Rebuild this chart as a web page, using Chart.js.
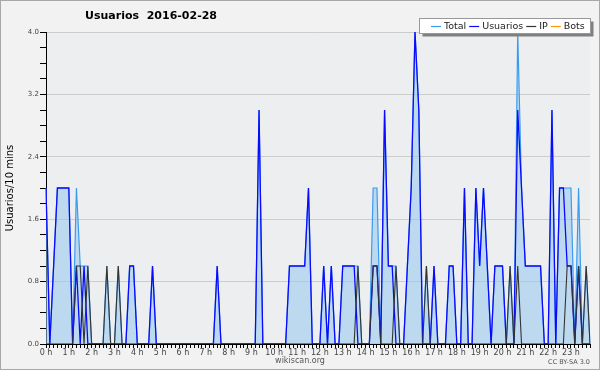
<!DOCTYPE html>
<html>
<head>
<meta charset="utf-8">
<script src="https://cdn.jsdelivr.net/npm/chart.js@4.4.1/dist/chart.umd.min.js"></script>
<style>
  html, body { margin: 0; padding: 0; background: #f2f2f2; }
  #wrap { width: 600px; height: 370px; }
</style>
</head>
<body>
<div id="wrap"><canvas id="chart" width="600" height="370"></canvas></div>
<script>
const chartTitle = "Usuarios  2016-02-28";
const yTitle = "Usuarios/10 mins";

const hourLabels = [
  "0 h", "1 h", "2 h", "3 h", "4 h", "5 h", "6 h", "7 h", "8 h", "9 h", "10 h", "11 h",
  "12 h", "13 h", "14 h", "15 h", "16 h", "17 h", "18 h", "19 h", "20 h", "21 h", "22 h", "23 h",
];

// one value per 10 minutes, two hours per row
const total = [
  2, 0, 1, 2, 2, 2, 2, 0, 2, 1, 1, 1,
  0, 0, 0, 0, 1, 0, 0, 1, 0, 0, 1, 1,
  0, 0, 0, 0, 1, 0, 0, 0, 0, 0, 0, 0,
  0, 0, 0, 0, 0, 0, 0, 0, 0, 1, 0, 0,
  0, 0, 0, 0, 0, 0, 0, 0, 3, 0, 0, 0,
  0, 0, 0, 0, 1, 1, 1, 1, 1, 2, 0, 0,
  0, 1, 0, 1, 0, 0, 1, 1, 1, 1, 1, 0,
  0, 0, 2, 2, 0, 3, 1, 1, 1, 0, 0, 1,
  2, 4, 3, 0, 1, 0, 1, 0, 0, 0, 1, 1,
  0, 0, 2, 0, 0, 2, 1, 2, 1, 0, 1, 1,
  1, 0, 1, 0, 4, 2, 1, 1, 1, 1, 1, 0,
  0, 3, 0, 2, 2, 2, 2, 0, 2, 0, 1, 0,
];

const usuarios = [
  2, 0, 1, 2, 2, 2, 2, 0, 1, 0, 1, 0,
  0, 0, 0, 0, 0, 0, 0, 0, 0, 0, 1, 1,
  0, 0, 0, 0, 1, 0, 0, 0, 0, 0, 0, 0,
  0, 0, 0, 0, 0, 0, 0, 0, 0, 1, 0, 0,
  0, 0, 0, 0, 0, 0, 0, 0, 3, 0, 0, 0,
  0, 0, 0, 0, 1, 1, 1, 1, 1, 2, 0, 0,
  0, 1, 0, 1, 0, 0, 1, 1, 1, 1, 0, 0,
  0, 0, 1, 1, 0, 3, 1, 1, 0, 0, 0, 1,
  2, 4, 3, 0, 0, 0, 1, 0, 0, 0, 1, 1,
  0, 0, 2, 0, 0, 2, 1, 2, 1, 0, 1, 1,
  1, 0, 0, 0, 3, 2, 1, 1, 1, 1, 1, 0,
  0, 3, 0, 2, 2, 1, 1, 0, 1, 0, 0, 0,
];

const ip = [
  0, 0, 0, 0, 0, 0, 0, 0, 1, 1, 0, 1,
  0, 0, 0, 0, 1, 0, 0, 1, 0, 0, 0, 0,
  0, 0, 0, 0, 0, 0, 0, 0, 0, 0, 0, 0,
  0, 0, 0, 0, 0, 0, 0, 0, 0, 0, 0, 0,
  0, 0, 0, 0, 0, 0, 0, 0, 0, 0, 0, 0,
  0, 0, 0, 0, 0, 0, 0, 0, 0, 0, 0, 0,
  0, 0, 0, 0, 0, 0, 0, 0, 0, 0, 1, 0,
  0, 0, 1, 1, 0, 0, 0, 0, 1, 0, 0, 0,
  0, 0, 0, 0, 1, 0, 0, 0, 0, 0, 0, 0,
  0, 0, 0, 0, 0, 0, 0, 0, 0, 0, 0, 0,
  0, 0, 1, 0, 1, 0, 0, 0, 0, 0, 0, 0,
  0, 0, 0, 0, 0, 1, 1, 0, 1, 0, 1, 0,
];

const bots = [
  0, 0, 0, 0, 0, 0, 0, 0, 0, 0, 0, 0,
  0, 0, 0, 0, 0, 0, 0, 0, 0, 0, 0, 0,
  0, 0, 0, 0, 0, 0, 0, 0, 0, 0, 0, 0,
  0, 0, 0, 0, 0, 0, 0, 0, 0, 0, 0, 0,
  0, 0, 0, 0, 0, 0, 0, 0, 0, 0, 0, 0,
  0, 0, 0, 0, 0, 0, 0, 0, 0, 0, 0, 0,
  0, 0, 0, 0, 0, 0, 0, 0, 0, 0, 0, 0,
  0, 0, 0, 0, 0, 0, 0, 0, 0, 0, 0, 0,
  0, 0, 0, 0, 0, 0, 0, 0, 0, 0, 0, 0,
  0, 0, 0, 0, 0, 0, 0, 0, 0, 0, 0, 0,
  0, 0, 0, 0, 0, 0, 0, 0, 0, 0, 0, 0,
  0, 0, 0, 0, 0, 0, 0, 0, 0, 0, 0, 0,
];

// x slots: label only on the hour
const slots = total.map((v, i) => (i % 6 === 0 ? hourLabels[i / 6] : ""));

const FONT = "'DejaVu Sans', sans-serif";
Chart.defaults.font.family = FONT;

const isMajor = (v) => Math.abs(v / 0.8 - Math.round(v / 0.8)) < 1e-6;

const decor = {
  id: "decor",
  beforeDraw(chart) {
    const { ctx, chartArea: a } = chart;
    ctx.save();
    ctx.fillStyle = "#f2f2f2";
    ctx.fillRect(0, 0, chart.width, chart.height);
    ctx.fillStyle = "#edeef0";
    ctx.fillRect(a.left, a.top, a.right - a.left, a.bottom - a.top);
    ctx.strokeStyle = "#a8a8a8";
    ctx.lineWidth = 1;
    ctx.strokeRect(0.5, 0.5, chart.width - 1, chart.height - 1);
    ctx.restore();
  },
  afterDraw(chart) {
    const ctx = chart.ctx;
    ctx.save();

    // title
    ctx.fillStyle = "#000";
    ctx.font = "bold 11px " + FONT;
    ctx.textAlign = "center";
    ctx.textBaseline = "middle";
    ctx.fillText(chartTitle, 151, 16);

    // footer
    ctx.fillStyle = "#555";
    ctx.font = "8px " + FONT;
    ctx.fillText("wikiscan.org", 300, 361);
    ctx.font = "6.5px " + FONT;
    ctx.textAlign = "right";
    ctx.fillText("CC BY-SA 3.0", 590, 362);

    // legend box
    const bx = 419.5, by = 18.5, bw = 171, bh = 15;
    ctx.fillStyle = "#808080";
    ctx.fillRect(bx + 3, by + 3, bw, bh);
    ctx.fillStyle = "#fff";
    ctx.fillRect(bx, by, bw, bh);
    ctx.strokeStyle = "#999";
    ctx.strokeRect(bx, by, bw, bh);

    ctx.font = "9.5px " + FONT;
    ctx.textAlign = "left";
    let x = 431;
    const y = by + bh / 2 + 0.5;
    chart.data.datasets.forEach((ds) => {
      ctx.strokeStyle = ds.borderColor;
      ctx.lineWidth = 1.2;
      ctx.beginPath();
      ctx.moveTo(x, y);
      ctx.lineTo(x + 10, y);
      ctx.stroke();
      x += 13;
      ctx.fillStyle = "#222";
      ctx.fillText(ds.label, x, y);
      x += ctx.measureText(ds.label).width + 3;
    });

    ctx.restore();
  },
};

new Chart(document.getElementById("chart"), {
  type: "line",
  data: {
    labels: slots,
    datasets: [
      {
        label: "Total",
        data: total,
        borderColor: "#3a9cf0",
        backgroundColor: "rgba(150,200,240,0.55)",
        fill: "origin",
        borderWidth: 1.2,
        order: 3,
      },
      {
        label: "Usuarios",
        data: usuarios,
        borderColor: "#0a0aff",
        borderWidth: 1.3,
        fill: false,
        order: 2,
      },
      {
        label: "IP",
        data: ip,
        borderColor: "#333333",
        borderWidth: 1.1,
        fill: false,
        order: 1,
      },
      {
        label: "Bots",
        data: bots,
        borderColor: "#ff9900",
        borderWidth: 1.1,
        fill: false,
        order: 4,
      },
    ],
  },
  options: {
    responsive: false,
    animation: false,
    events: [],
    layout: { padding: { top: 32, right: 10, left: 0, bottom: 0 } },
    elements: { point: { radius: 0 }, line: { tension: 0 } },
    plugins: {
      legend: { display: false },
      title: { display: false },
      tooltip: { enabled: false },
    },
    scales: {
      x: {
        z: 1,
        offset: false,
        afterFit: (s) => { s.height = 26; },
        border: { display: true, color: "#000", width: 1 },
        grid: {
          drawOnChartArea: false,
          drawTicks: true,
          tickLength: 4,
          tickColor: "#000",
        },
        ticks: {
          autoSkip: false,
          maxRotation: 0,
          padding: 0,
          color: "#444",
          font: { size: 8 },
        },
      },
      y: {
        z: 1,
        min: 0,
        max: 4,
        afterFit: (s) => { s.width = 46; },
        border: { display: true, color: "#000", width: 1 },
        grid: {
          color: (c) => (isMajor(c.tick.value) ? "#cccccc" : "rgba(0,0,0,0)"),
          tickColor: "#000",
          tickLength: 6,
        },
        ticks: {
          stepSize: 0.2,
          maxTicksLimit: 50,
          autoSkip: false,
          padding: 1,
          color: "#444",
          font: { size: 7 },
          callback: (v) => (isMajor(v) ? Number(v).toFixed(1) : ""),
        },
        title: {
          display: true,
          text: yTitle,
          color: "#000",
          font: { size: 10 },
          padding: { top: 4, bottom: 0 },
        },
      },
    },
  },
  plugins: [decor],
});
</script>
</body>
</html>
